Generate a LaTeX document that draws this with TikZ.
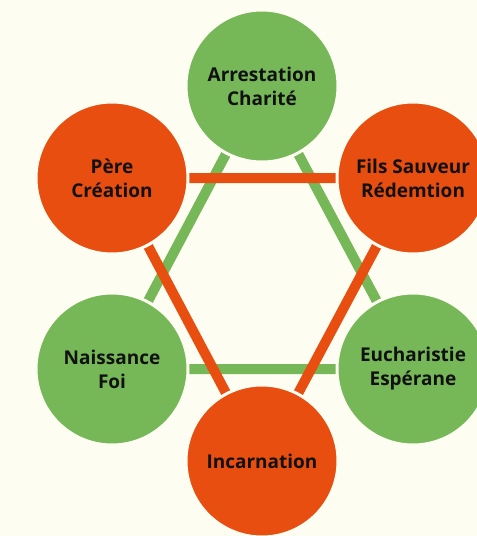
\documentclass[tikz,border=0pt]{standalone}
\usepackage{fontspec}
\setmainfont{Open Sans}
\usetikzlibrary{backgrounds}
\definecolor{bg}{HTML}{FDFDF1}
\definecolor{grn}{HTML}{76B757}
\definecolor{org}{HTML}{E84E0F}
\definecolor{ink}{HTML}{111111}
\begin{document}
\begin{tikzpicture}[x=1pt,y=-1pt,
  circ/.style={circle, minimum size=152pt, inner sep=0pt, draw=bg, line width=3pt,
    align=center, text=ink, font=\bfseries\fontsize{19}{24}\selectfont},
  gcirc/.style={circ, fill=grn},
  ocirc/.style={circ, fill=org},
  gline/.style={draw=grn, line width=10pt},
  oline/.style={draw=org, line width=10pt}]
\useasboundingbox (0,0) rectangle (477,536);
\node[gcirc] (top) at (262,86) {Arrestation\\Charité};
\node[ocirc] (pere) at (112,178) {Père\\Création};
\node[ocirc] (fils) at (413,178) {Fils Sauveur\\Rédemtion};
\node[gcirc] (nais) at (112,369) {Naissance\\Foi};
\node[gcirc] (euch) at (413,369) {Eucharistie\\Espérane};
\node[ocirc] (inc) at (262,461) {Incarnation};
\begin{pgfonlayer}{background}
\fill[bg] (0,0) rectangle (477,536);
\draw[gline] (top.center) -- (nais.center) -- (euch.center) -- cycle;
\draw[oline] (pere.center) -- (fils.center) -- (inc.center) -- cycle;
\end{pgfonlayer}
\end{tikzpicture}
\end{document}
